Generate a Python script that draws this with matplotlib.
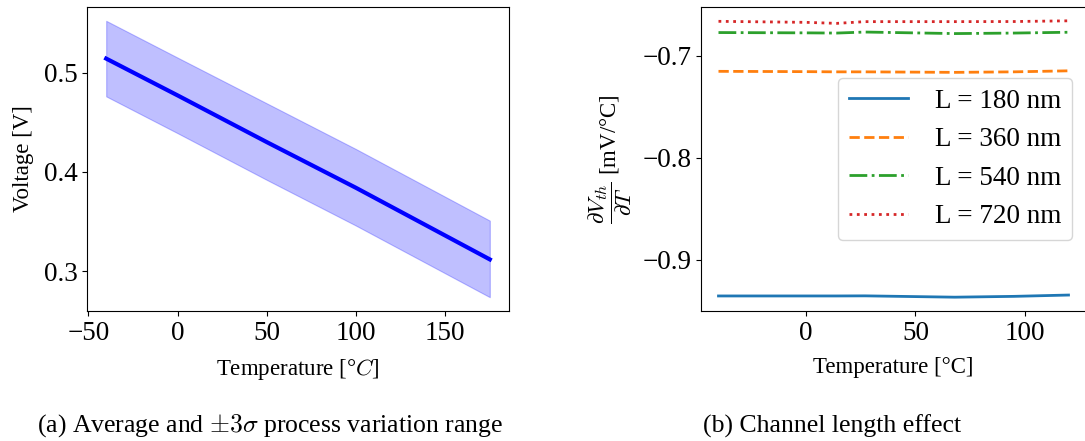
import matplotlib
matplotlib.use("Agg")
import matplotlib.pyplot as plt
from matplotlib.ticker import MultipleLocator

# ---- data (a) ----
temp_a = [-40, 0, 50, 100, 150, 175]
mean_a = [0.514, 0.477, 0.430, 0.384, 0.336, 0.312]
upper_a = [0.552, 0.515, 0.469, 0.423, 0.375, 0.351]
lower_a = [0.476, 0.439, 0.392, 0.346, 0.298, 0.274]

# ---- data (b) ----
temp_b = [-40, 0, 14, 27, 68, 95, 120]
labels_b = ["L = 180 nm", "L = 360 nm", "L = 540 nm", "L = 720 nm"]
dvdt_180 = [-0.9356, -0.9356, -0.9356, -0.9355, -0.9368, -0.9360, -0.9347]
dvdt_360 = [-0.7155, -0.7158, -0.7160, -0.7160, -0.7165, -0.7160, -0.7150]
dvdt_540 = [-0.6775, -0.6778, -0.6780, -0.6770, -0.6785, -0.6780, -0.6772]
dvdt_720 = [-0.6665, -0.6675, -0.6685, -0.6668, -0.6668, -0.6667, -0.6660]

plt.rcParams['font.family'] = ['Liberation Serif', 'DejaVu Serif']
plt.rcParams['mathtext.fontset'] = 'cm'

fig = plt.figure(figsize=(10.85, 4.41), dpi=100)
W, H = 1085, 441

def pos(l, r, t, b):
    return [l / W, 1 - b / H, (r - l) / W, (b - t) / H]

tick_fs = 19.5
label_fs = 16.5
cap_fs = 18.5

ax1 = fig.add_axes(pos(87, 509, 7, 311))
ax1.fill_between(temp_a, lower_a, upper_a, color='blue', alpha=0.25, linewidth=0.8)
ax1.plot(temp_a, mean_a, color='blue', linewidth=3)
ax1.set_xlabel(r'Temperature [°$C$]', fontsize=label_fs, labelpad=8)
ax1.set_ylabel('Voltage [V]', fontsize=label_fs, labelpad=7)
ax1.tick_params(labelsize=tick_fs)

ax2 = fig.add_axes(pos(701, 1086, 7, 311))
styles = ['-', '--', '-.', ':']
colors = ['tab:blue', 'tab:orange', 'tab:green', 'tab:red']
for ys, lab, ls, c in zip([dvdt_180, dvdt_360, dvdt_540, dvdt_720], labels_b, styles, colors):
    ax2.plot(temp_b, ys, linestyle=ls, color=c, linewidth=2, label=lab)
ax2.yaxis.set_major_locator(MultipleLocator(0.1))
ax2.set_xlabel('Temperature [°C]', fontsize=label_fs, labelpad=8)
ax2.set_ylabel(r'$\dfrac{\partial V_{th}}{\partial T}$ [mV/°C]', fontsize=label_fs, labelpad=6)
ax2.tick_params(labelsize=tick_fs)
ax2.legend(loc='center right', fontsize=tick_fs, handlelength=2.2, handletextpad=1.0)

fig.text(270 / W, 1 - 426 / H, r'(a) Average and $\pm3\sigma$ process variation range',
         ha='center', va='center', fontsize=cap_fs)
fig.text(832 / W, 1 - 426 / H, '(b) Channel length effect',
         ha='center', va='center', fontsize=cap_fs)

fig.savefig('out.png', dpi=100)
